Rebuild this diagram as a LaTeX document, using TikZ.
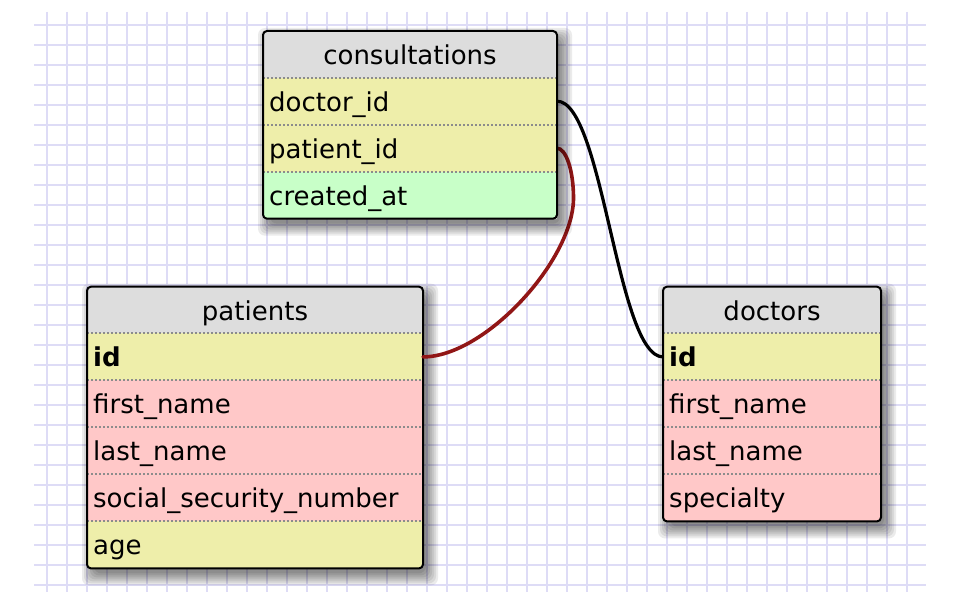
\documentclass[tikz,border=0pt]{standalone}
\usepackage{fontspec}
\setmainfont{DejaVu Sans}
\definecolor{gridc}{RGB}{222,220,246}
\definecolor{headc}{RGB}{221,221,221}
\definecolor{keyc}{RGB}{238,238,170}
\definecolor{txtc}{RGB}{255,200,200}
\definecolor{datec}{RGB}{200,255,200}
\definecolor{sepc}{RGB}{140,140,140}
\definecolor{relred}{RGB}{145,22,22}
\pgfdeclarelayer{gridlayer}
\pgfdeclarelayer{lowerlayer}
\pgfdeclarelayer{connlayer}
\pgfsetlayers{gridlayer,lowerlayer,connlayer,main}
\newcommand\erfield[6]{%
  \node[rowbox, fill=#5, minimum width=#4] (#1) at (#2,#3) {};
  \path (#1.north west) ++(6,33.5) node[fieldtxt] (#1-t) {#6};
  \draw[sepline] (#1.north west) -- (#1.north east);
}
\newcommand\erhead[5]{%
  \node[rowbox, fill=headc, minimum width=#4, minimum height=46.7pt] (#1) at (#2,#3) {};
  \path (#1.north) ++(0,33.3) node[headtxt] (#1-t) {#5};
}
\newcommand\ershadow[4]{%
  \foreach \s in {-2,0,2,4,6,8,10}
    {\fill[black, opacity=0.08, rounded corners=7pt] (#1+5-\s,#2+7-\s) rectangle (#3+5+\s,#4+7+\s);}
  \fill[white] (#1,#2) rectangle (#3,#4);
}
\begin{document}
\begin{tikzpicture}[x=1pt,y=-1pt,
  font=\fontsize{26}{30}\selectfont,
  rowbox/.style={rectangle, inner sep=0pt, outer sep=0pt, minimum height=47pt, anchor=north west, draw=none},
  fieldtxt/.style={anchor=base west, inner sep=0pt, text=black},
  headtxt/.style={anchor=base, inner sep=0pt, text=black},
  sepline/.style={draw=sepc, line width=2pt, dash pattern=on 2pt off 2pt},
  gridline/.style={draw=gridc, line width=2.2pt},
  tableframe/.style={draw=black, line width=2pt, rounded corners=4pt},
  relblack/.style={draw=black, line width=3.2pt, line cap=round},
  relredline/.style={draw=relred, line width=3.6pt, line cap=round}
]
\useasboundingbox (0,0) rectangle (960,604);
\begin{pgfonlayer}{gridlayer}
\fill[white] (0,0) rectangle (960,604);
\foreach \i in {0,...,43} \draw[gridline] (46.7+20*\i,12) -- (46.7+20*\i,592);
\foreach \j in {0,...,28} \draw[gridline] (34,24.7+20*\j) -- (926,24.7+20*\j);
\end{pgfonlayer}

% patients table
\begin{pgfonlayer}{lowerlayer}
\ershadow{87}{286.7}{423}{568.3}
\begin{scope}
  \clip[rounded corners=4pt] (87,286.7) rectangle (423,568.3);
  \erhead{ph}{87}{286.7}{336pt}{patients}
  \erfield{pid}{87}{333.4}{336pt}{keyc}{\textbf{id}}
  \erfield{pfn}{87}{380.4}{336pt}{txtc}{first\_name}
  \erfield{pln}{87}{427.4}{336pt}{txtc}{last\_name}
  \erfield{pssn}{87}{474.4}{336pt}{txtc}{social\_security\_number}
  \erfield{page}{87}{521.4}{336pt}{keyc}{age}
\end{scope}
\draw[tableframe] (ph.north west) rectangle (page.south east);
\end{pgfonlayer}

% consultations table
\ershadow{263}{31}{557}{218.7}
\begin{scope}
  \clip[rounded corners=4pt] (263,31) rectangle (557,218.7);
  \erhead{ch}{263}{31}{294pt}{consultations}
  \erfield{cdoc}{263}{77.7}{294pt}{keyc}{doctor\_id}
  \erfield{cpat}{263}{124.7}{294pt}{keyc}{patient\_id}
  \erfield{ccre}{263}{171.7}{294pt}{datec}{created\_at}
\end{scope}
\draw[tableframe] (ch.north west) rectangle (ccre.south east);

% doctors table
\ershadow{663}{286.7}{881}{521.4}
\begin{scope}
  \clip[rounded corners=4pt] (663,286.7) rectangle (881,521.4);
  \erhead{dh}{663}{286.7}{218pt}{doctors}
  \erfield{did}{663}{333.4}{218pt}{keyc}{\textbf{id}}
  \erfield{dfn}{663}{380.4}{218pt}{txtc}{first\_name}
  \erfield{dln}{663}{427.4}{218pt}{txtc}{last\_name}
  \erfield{dsp}{663}{474.4}{218pt}{txtc}{specialty}
\end{scope}
\draw[tableframe] (dh.north west) rectangle (dsp.south east);

% relations, below consultations and doctors, above patients
\begin{pgfonlayer}{connlayer}
\coordinate (rbend) at (573.5,198);
\draw[relblack] (cdoc.east) .. controls +(46,0) and +(-46,0) .. (did.west);
\draw[relredline] (cpat.east) .. controls +(9,0) and +(0,-27.5) .. (rbend)
      .. controls +(0,62) and +(62,0) .. (pid.east);
\end{pgfonlayer}
\end{tikzpicture}
\end{document}
